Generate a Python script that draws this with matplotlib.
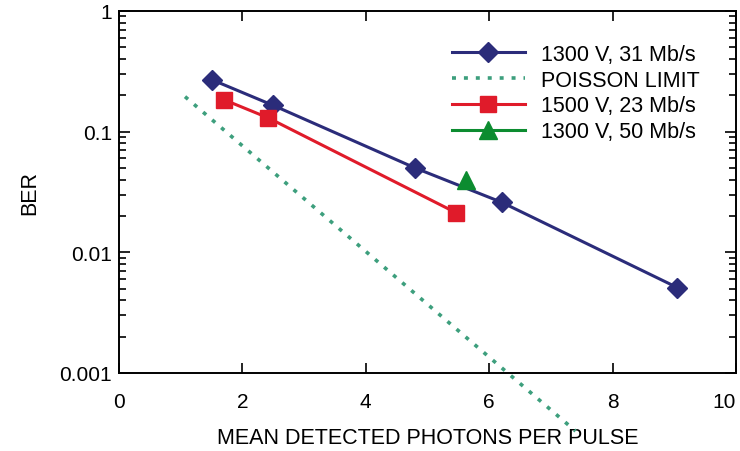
import numpy as np
import matplotlib
matplotlib.use("Agg")
import matplotlib.pyplot as plt
from matplotlib.ticker import LogLocator, FixedLocator, NullFormatter

plt.rcParams['font.family'] = ['Liberation Sans', 'DejaVu Sans']

# data
x_1300_31 = [1.5, 2.5, 4.8, 6.2, 9.05]
ber_1300_31 = [0.27, 0.165, 0.050, 0.026, 0.0051]

x_poisson = [1.07, 7.4]
ber_poisson = [0.195, 0.00033]

x_1500_23 = [1.7, 2.42, 5.47]
ber_1500_23 = [0.184, 0.130, 0.0212]

x_1300_50 = [5.63]
ber_1300_50 = [0.040]

labels = ['1300 V, 31 Mb/s', 'POISSON LIMIT', '1500 V, 23 Mb/s', '1300 V, 50 Mb/s']
xticks = [0, 2, 4, 6, 8, 10]
yticks = [0.001, 0.01, 0.1, 1]

navy = '#2b2c7a'
teal = '#3d9f7d'
red = '#e01b2a'
green = '#0c8c30'

fig = plt.figure(figsize=(7.4, 4.52), dpi=100)
ax = fig.add_axes([0.1608, 0.1726, 0.8338, 0.8009])

ax.plot(x_1300_31, ber_1300_31, color=navy, lw=2.2, marker='D', ms=10,
        label=labels[0])
ax.plot(x_poisson, ber_poisson, color=teal, lw=2.6, ls=(0, (1.1, 2.2)),
        clip_on=False, label=labels[1])
ax.plot(x_1500_23, ber_1500_23, color=red, lw=2.2, marker='s', ms=12,
        label=labels[2])
ax.plot(x_1300_50, ber_1300_50, color=green, lw=2.2, marker='^', ms=13,
        label=labels[3])

ax.set_yscale('log')
ax.set_xlim(0, 10)
ax.set_ylim(0.001, 1)

ax.xaxis.set_major_locator(FixedLocator(xticks))
ax.set_xticklabels([str(t) for t in xticks])
ax.set_yticks(yticks)
ax.set_yticklabels(['0.001', '0.01', '0.1', '1'])
ax.yaxis.set_minor_locator(LogLocator(base=10, subs=np.arange(2, 10), numticks=10))
ax.yaxis.set_minor_formatter(NullFormatter())

ax.tick_params(which='both', direction='in', top=True, right=True,
               labelsize=15, width=1.2, color='black')
ax.tick_params(axis='y', which='major', length=8, pad=5)
ax.tick_params(axis='y', which='minor', length=5)
ax.tick_params(axis='x', which='major', length=7, pad=14)
ax.get_xticklabels()[-1].set_horizontalalignment('right')
for s in ax.spines.values():
    s.set_linewidth(1.4)

ax.set_xlabel('MEAN DETECTED PHOTONS PER PULSE', fontsize=15.5, labelpad=11)
ax.set_ylabel('BER', fontsize=15.5, labelpad=14)

ax.legend(loc='upper left', bbox_to_anchor=(0.525, 0.933), frameon=False,
          fontsize=15.5, handlelength=3.4, handletextpad=0.75, labelspacing=0.22,
          borderaxespad=0.0)

fig.savefig('out.png', dpi=100)
